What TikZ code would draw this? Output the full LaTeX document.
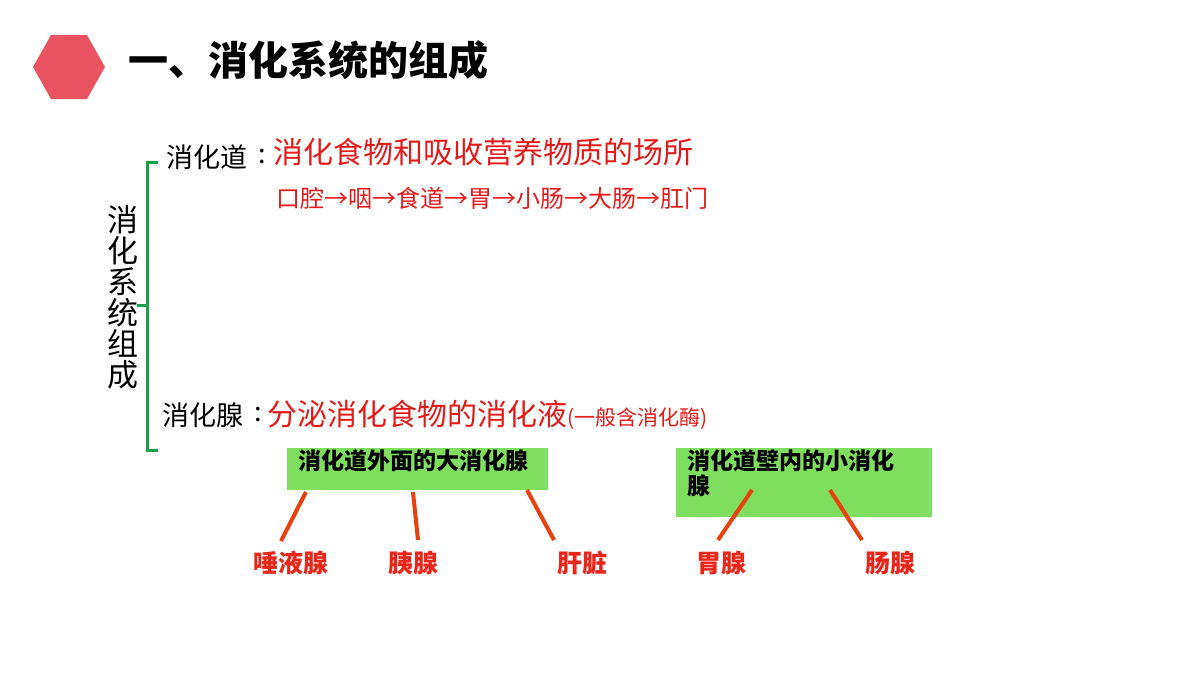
\documentclass[tikz,border=0pt]{standalone}
\usepackage{fontspec}
\setmainfont{Noto Sans CJK SC}
\begin{document}
\begin{tikzpicture}[x=0.5pt,y=-0.5pt,
  every node/.style={inner sep=0pt,outer sep=0pt},
  blk/.style={font=\fontsize{13.5}{15}\selectfont,text=black,anchor=west},
  red1/.style={font=\fontsize{15}{17}\selectfont,text=rtxt,anchor=west},
  gbox/.style={fill=gfill,draw=none},
  gtext/.style={font=\bfseries\fontsize{11.5}{12.5}\selectfont,text=black,anchor=north west,align=left},
  lab/.style={font=\bfseries\fontsize{12.5}{14}\selectfont,text=rlab},
  link/.style={draw=rline,line width=2pt}]
\definecolor{hexc}{HTML}{E9535F}
\definecolor{rtxt}{HTML}{E41A1A}
\definecolor{gfill}{HTML}{7FDD5F}
\definecolor{rlab}{HTML}{E8261A}
\definecolor{rline}{HTML}{E8400E}
\definecolor{brc}{HTML}{1AA14A}
\useasboundingbox (0,0) rectangle (1200,675);
\fill[hexc] (33,67) -- (51,35) -- (87,35) -- (105,67) -- (87,99) -- (51,99) -- cycle;
\node[anchor=west,font=\bfseries\fontsize{20}{22}\selectfont] (title) at (128,60) {一、消化系统的组成};
% brace
\draw[brc,line width=1.5pt] (158,162) -- (147,162) -- (147,450) -- (158,450);
\draw[brc,line width=1.5pt] (137,305) -- (147,305);
\node[font=\fontsize{15.5}{15.5}\selectfont,align=center] (vt) at (123,297) {消\\化\\系\\统\\组\\成};
\node[blk] (d1) at (166,157) {消化道};
\node[blk] at (258,157) {:};
\node[red1] (d2) at (273,152) {消化食物和吸收营养物质的场所};
\node[font=\fontsize{12}{14}\selectfont,text=rtxt,anchor=west] (d3) at (276,198) {口腔→咽→食道→胃→小肠→大肠→肛门};
\node[blk] (g1) at (162,415) {消化腺};
\node[blk] at (254,415) {:};
\node[red1] (g2) at (267,415) {分泌消化食物的消化液{\fontsize{10.5}{12}\selectfont (一般含消化酶)}};
\fill[gfill] (287,448) rectangle (548,490);
\node[gtext] (b1) at (298,450) {消化道外面的大消化腺};
\fill[gfill] (676,448) rectangle (932,517);
\node[gtext] (b2) at (687,450) {消化道壁内的小消化\\腺};
\coordinate (b1a) at (306,492); \coordinate (b1b) at (413,492); \coordinate (b1c) at (527,490);
\coordinate (b2a) at (752,490); \coordinate (b2b) at (830,490);
\node[lab] (l1) at (291,563) {唾液腺};
\node[lab] (l2) at (413,563) {胰腺};
\node[lab] (l3) at (582,563) {肝脏};
\node[lab] (l4) at (721,563) {胃腺};
\node[lab] (l5) at (890,563) {肠腺};
\draw[link] (b1a) -- (281,541);
\draw[link] (b1b) -- (418,540);
\draw[link] (b1c) -- (554,540);
\draw[link] (b2a) -- (718,540);
\draw[link] (b2b) -- (862,540);
\end{tikzpicture}
\end{document}
